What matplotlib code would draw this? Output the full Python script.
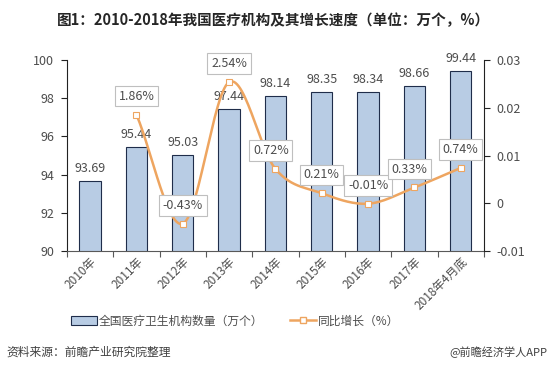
import numpy as np
import matplotlib
matplotlib.use("Agg")
import matplotlib.pyplot as plt
from matplotlib.lines import Line2D
from matplotlib.patches import Patch

plt.rcParams['font.family'] = ['Noto Sans CJK SC', 'DejaVu Sans']

categories = ["2010年", "2011年", "2012年", "2013年", "2014年", "2015年", "2016年", "2017年", "2018年4月底"]
counts = [93.69, 95.44, 95.03, 97.44, 98.14, 98.35, 98.34, 98.66, 99.44]
growth = [None, 0.0186, -0.0043, 0.0254, 0.0072, 0.0021, -0.0001, 0.0033, 0.0074]
growth_labels = [None, "1.86%", "-0.43%", "2.54%", "0.72%", "0.21%", "-0.01%", "0.33%", "0.74%"]

fig = plt.figure(figsize=(5.53, 3.69), dpi=100)
ax = fig.add_axes([0.121, 0.320, 0.754, 0.517])
ax2 = ax.twinx()

tc = "#4d4d4d"
x = np.arange(len(categories))
ax.bar(x, counts, width=0.46, color="#b8cce4", edgecolor="#1f2d4a", linewidth=0.8, zorder=2)
for xi, v in zip(x, counts):
    ax.text(xi, v + 0.3, f"{v:.2f}", ha="center", va="bottom", fontsize=9, color=tc)

ax.set_ylim(90, 100)
ax.set_yticks(np.arange(90, 101, 2))
ax.set_xlim(-0.5, len(categories) - 0.5)
ax.set_xticks(np.arange(-0.5, len(categories), 1), minor=False)
ax.set_xticklabels([])
ax.set_xticks(x, minor=True)
ax.set_xticklabels(categories, minor=True, rotation=45, ha="right", rotation_mode="anchor", fontsize=8.5, color=tc)
ax.tick_params(axis="x", which="minor", length=0, pad=3)
ax.tick_params(axis="x", which="major", length=4, color="#595959")
ax.tick_params(axis="y", labelsize=9, colors=tc, length=4, pad=5)
ax.tick_params(axis="y", color="#222222")
for s in ["top", "right"]:
    ax.spines[s].set_visible(False)
ax.spines["left"].set_color("#222222")
ax.spines["bottom"].set_color("#595959")

# smoothed line (Catmull-Rom through the data points)
gx = np.array([xi for xi, g in zip(x, growth) if g is not None], dtype=float)
gy = np.array([g for g in growth if g is not None], dtype=float)
px = np.concatenate([[2 * gx[0] - gx[1]], gx, [2 * gx[-1] - gx[-2]]])
py = np.concatenate([[2 * gy[0] - gy[1]], gy, [2 * gy[-1] - gy[-2]]])
sx, sy = [], []
t = np.linspace(0, 1, 30)
for i in range(1, len(px) - 2):
    for arr, out in ((px, sx), (py, sy)):
        p0, p1, p2, p3 = arr[i - 1], arr[i], arr[i + 1], arr[i + 2]
        out.extend(0.5 * ((2 * p1) + (-p0 + p2) * t + (2 * p0 - 5 * p1 + 4 * p2 - p3) * t ** 2
                          + (-p0 + 3 * p1 - 3 * p2 + p3) * t ** 3))
lc = "#eea560"
ax2.plot(sx, sy, color=lc, linewidth=1.8, zorder=3)
ax2.plot(gx, gy, linestyle="none", marker="s", markersize=5, markerfacecolor="white",
         markeredgecolor=lc, markeredgewidth=0.8, zorder=4)

offsets = {1: (0, 0.0025), 2: (0, 0.0025), 3: (0, 0.0025), 4: (-0.1, 0.0025), 5: (0, 0.0025),
           6: (0, 0.0025), 7: (-0.1, 0.0025), 8: (0, 0.0025)}
for xi, g, lab in zip(x, growth, growth_labels):
    if g is None:
        continue
    dx, dy = offsets[xi]
    ax2.text(xi + dx, g + dy, lab, ha="center", va="bottom", fontsize=9, color=tc,
             bbox=dict(boxstyle="square,pad=0.3", facecolor="white", edgecolor="#bfbfbf", linewidth=0.8),
             zorder=5)

ax2.set_ylim(-0.01, 0.03)
ax2.set_yticks([-0.01, 0, 0.01, 0.02, 0.03])
ax2.set_yticklabels(["-0.01", "0", "0.01", "0.02", "0.03"])
ax2.tick_params(axis="y", labelsize=9, colors=tc, length=4, pad=5)
ax2.tick_params(axis="y", color="#222222")
for s in ["top", "left", "bottom"]:
    ax2.spines[s].set_visible(False)
ax2.spines["right"].set_color("#222222")

fig.text(0.495, 0.945, "图1：2010-2018年我国医疗机构及其增长速度（单位：万个，%）", ha="center", va="center",
         fontsize=10.5, fontweight="bold", color="#262626")

handles = [Patch(facecolor="#b8cce4", edgecolor="#1f2d4a", linewidth=0.8),
           Line2D([0], [0], color=lc, linewidth=1.8, marker="s", markersize=5,
                  markerfacecolor="white", markeredgecolor=lc)]
fig.legend(handles, ["全国医疗卫生机构数量（万个）", "同比增长（%）"], loc="center", bbox_to_anchor=(0.425, 0.13),
           ncol=2, frameon=False, fontsize=8.5, handlelength=2.2, handletextpad=0.2, columnspacing=2.2,
           labelcolor=tc)

fig.text(0.012, 0.045, "资料来源：前瞻产业研究院整理", ha="left", va="center", fontsize=8.5,
         style="italic", color="#404040")
fig.text(0.99, 0.045, "@前瞻经济学人APP", ha="right", va="center", fontsize=8, color="#404040")

fig.savefig("out.png", dpi=100)
